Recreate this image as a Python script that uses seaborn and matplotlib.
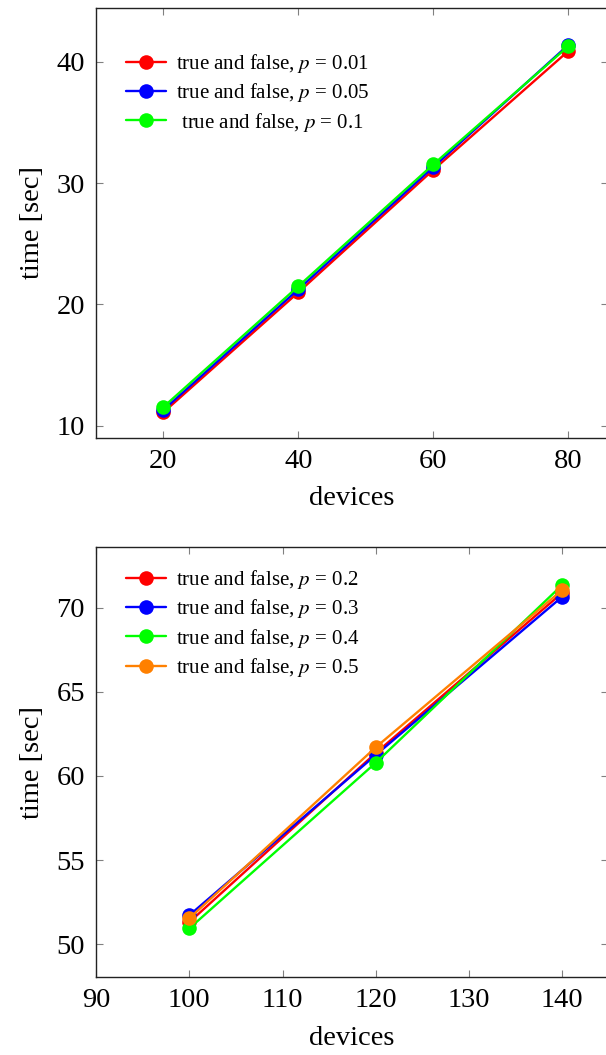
import matplotlib
matplotlib.use("Agg")
import matplotlib.pyplot as plt
import seaborn as sns
import pandas as pd

# Run-time measurements for the first batch of device counts
devices_small = [20, 40, 60, 80]
time_p001 = [11.1, 21.0, 31.1, 40.9]
time_p005 = [11.3, 21.25, 31.33, 41.4]
time_p01 = [11.54, 21.5, 31.55, 41.3]

# Run-time measurements for the larger device counts
devices_large = [100, 120, 140]
time_p02 = [51.3, 61.37, 70.9]
time_p03 = [51.71, 61.25, 70.67]
time_p04 = [50.93, 60.79, 71.37]
time_p05 = [51.53, 61.71, 71.07]

labels_small = ["true and false, $p$ = 0.01",
                "true and false, $p$ = 0.05",
                " true and false, $p$ = 0.1"]
labels_large = ["true and false, $p$ = 0.2",
                "true and false, $p$ = 0.3",
                "true and false, $p$ = 0.4",
                "true and false, $p$ = 0.5"]
colors_small = ["#ff0000", "#0000ff", "#00ff00"]
colors_large = ["#ff0000", "#0000ff", "#00ff00", "#ff8000"]

sns.set_style("ticks")
plt.rcParams["font.family"] = ["Liberation Serif", "DejaVu Serif"]
plt.rcParams["mathtext.fontset"] = "stix"
plt.rcParams["text.color"] = "black"
plt.rcParams["axes.labelcolor"] = "black"
plt.rcParams["xtick.labelcolor"] = "black"
plt.rcParams["ytick.labelcolor"] = "black"

fig = plt.figure(figsize=(6.06, 10.55), dpi=100)
ax1 = fig.add_axes([0.1584, 0.5851, 0.845, 0.4076])
ax2 = fig.add_axes([0.1584, 0.0739, 0.845, 0.4073])


def draw(ax, xs, series, labels, colors):
    for ys, lab, col in zip(series, labels, colors):
        df = pd.DataFrame({"devices": xs, "time": ys})
        sns.lineplot(data=df, x="devices", y="time", ax=ax, color=col,
                     marker="o", markersize=10.5, markeredgewidth=0,
                     linewidth=1.7, label=lab)


draw(ax1, devices_small, [time_p001, time_p005, time_p01], labels_small, colors_small)
draw(ax2, devices_large, [time_p02, time_p03, time_p04, time_p05], labels_large, colors_large)

ax1.set_xlim(10, 85.9)
ax1.set_ylim(9.0, 44.48)
ax1.set_xticks([20, 40, 60, 80])
ax1.set_yticks([10, 20, 30, 40])

ax2.set_xlim(90, 144.9)
ax2.set_ylim(48.04, 73.6)
ax2.set_xticks([90, 100, 110, 120, 130, 140])
ax2.set_yticks([50, 55, 60, 65, 70])

for ax, top in ((ax1, 0.916), (ax2, 0.971)):
    ax.set_xlabel("devices", fontsize=20.5, labelpad=9)
    ax.set_ylabel("time [sec]", fontsize=20.5, labelpad=8)
    ax.tick_params(direction="in", length=5, width=0.8, color="#808080",
                   labelsize=20.5, top=True, right=True, pad=8)
    for sp in ax.spines.values():
        sp.set_color("#222222")
        sp.set_linewidth(1.0)
        sp.set_visible(True)
    ax.legend(loc="upper left", frameon=False, fontsize=15,
              handlelength=1.9, handletextpad=0.5, labelspacing=0.3,
              borderaxespad=0.0, bbox_to_anchor=(0.043, top))

fig.savefig("out.png", dpi=100)
